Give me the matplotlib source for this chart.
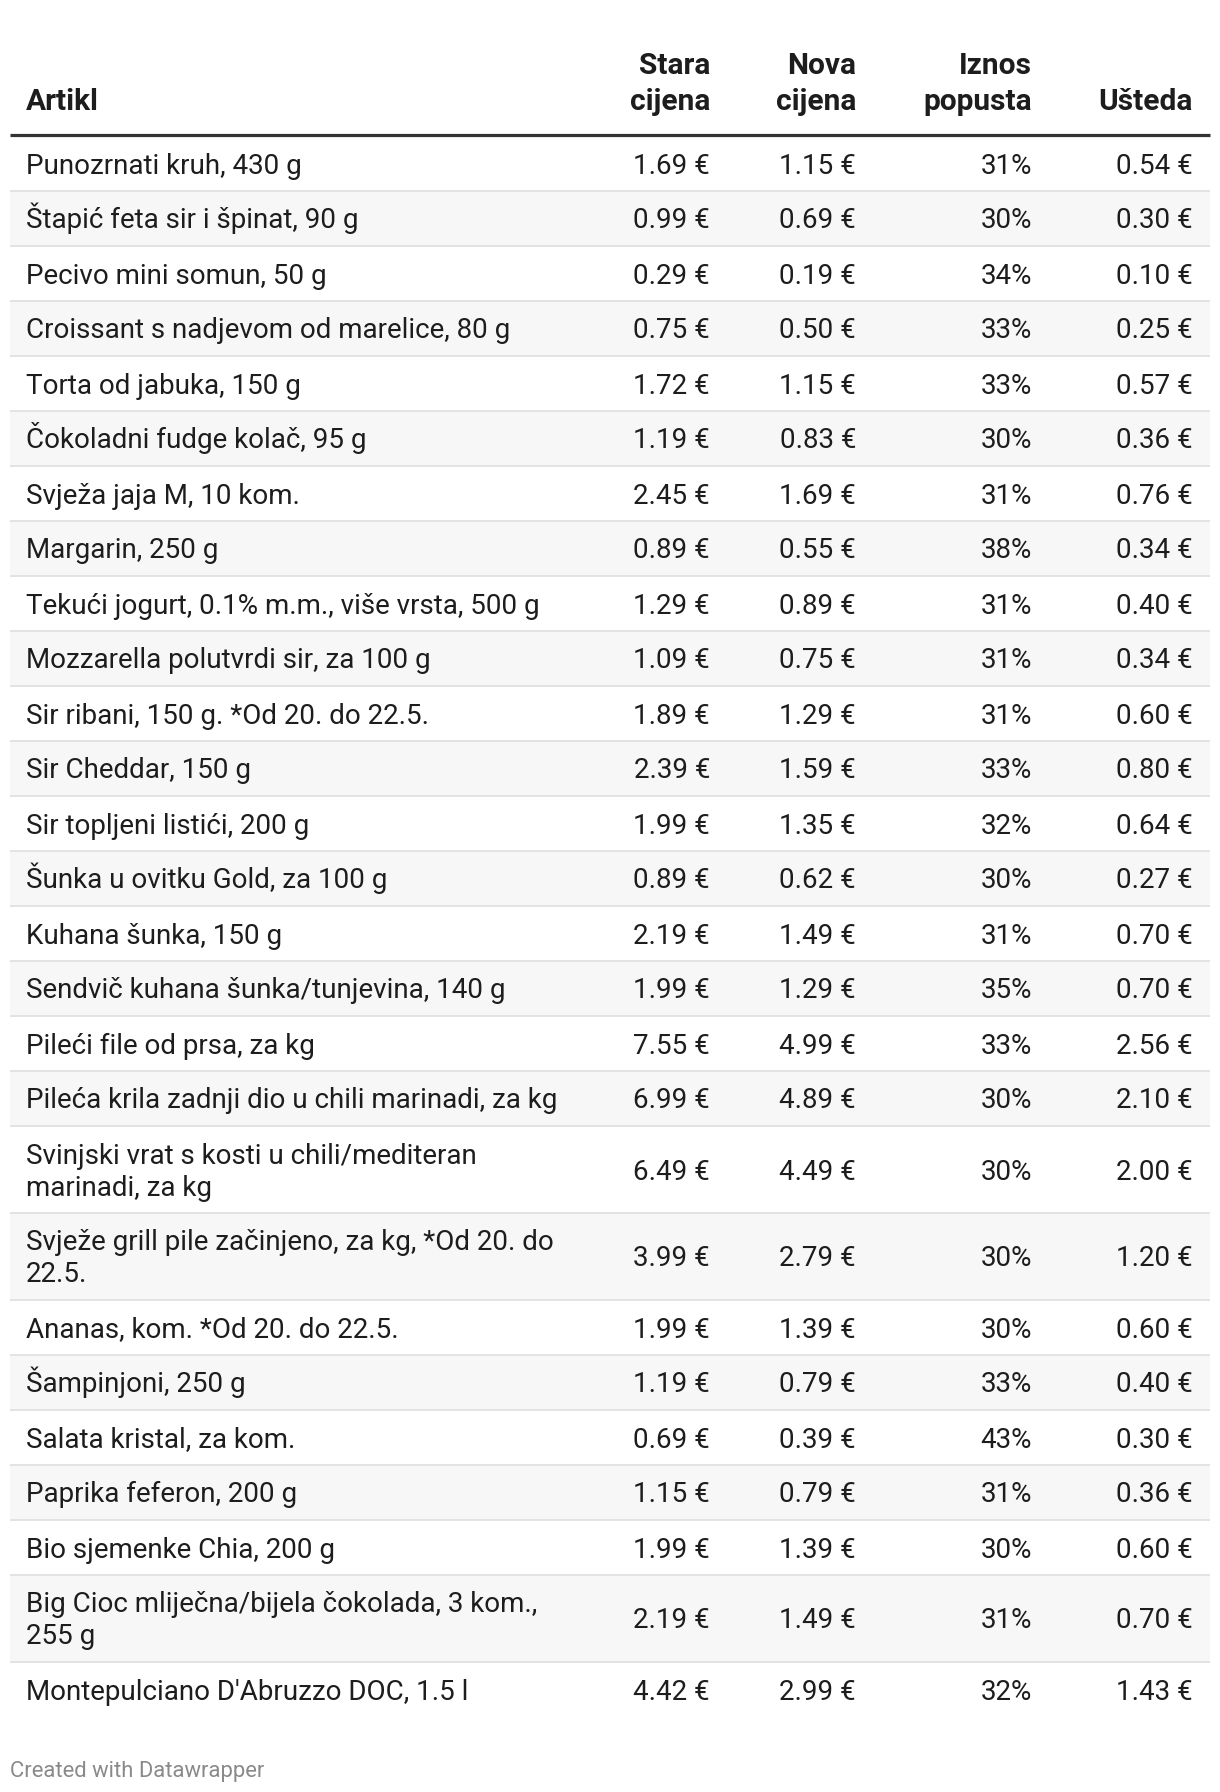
import matplotlib
matplotlib.use("Agg")
import matplotlib.pyplot as plt
from matplotlib.patches import Rectangle

plt.rcParams['font.family'] = ['Roboto', 'DejaVu Sans']

names = [
    "Punozrnati kruh, 430 g",
    "Štapić feta sir i špinat, 90 g",
    "Pecivo mini somun, 50 g",
    "Croissant s nadjevom od marelice, 80 g",
    "Torta od jabuka, 150 g",
    "Čokoladni fudge kolač, 95 g",
    "Svježa jaja M, 10 kom.",
    "Margarin, 250 g",
    "Tekući jogurt, 0.1% m.m., više vrsta, 500 g",
    "Mozzarella polutvrdi sir, za 100 g",
    "Sir ribani, 150 g. *Od 20. do 22.5.",
    "Sir Cheddar, 150 g",
    "Sir topljeni listići, 200 g",
    "Šunka u ovitku Gold, za 100 g",
    "Kuhana šunka, 150 g",
    "Sendvič kuhana šunka/tunjevina, 140 g",
    "Pileći file od prsa, za kg",
    "Pileća krila zadnji dio u chili marinadi, za kg",
    "Svinjski vrat s kosti u chili/mediteran\nmarinadi, za kg",
    "Svježe grill pile začinjeno, za kg, *Od 20. do\n22.5.",
    "Ananas, kom. *Od 20. do 22.5.",
    "Šampinjoni, 250 g",
    "Salata kristal, za kom.",
    "Paprika feferon, 200 g",
    "Bio sjemenke Chia, 200 g",
    "Big Cioc mliječna/bijela čokolada, 3 kom.,\n255 g",
    "Montepulciano D'Abruzzo DOC, 1.5 l",
]
stara = [1.69, 0.99, 0.29, 0.75, 1.72, 1.19, 2.45, 0.89, 1.29, 1.09, 1.89, 2.39, 1.99,
         0.89, 2.19, 1.99, 7.55, 6.99, 6.49, 3.99, 1.99, 1.19, 0.69, 1.15, 1.99, 2.19, 4.42]
nova = [1.15, 0.69, 0.19, 0.50, 1.15, 0.83, 1.69, 0.55, 0.89, 0.75, 1.29, 1.59, 1.35,
        0.62, 1.49, 1.29, 4.99, 4.89, 4.49, 2.79, 1.39, 0.79, 0.39, 0.79, 1.39, 1.49, 2.99]
popust = [31, 30, 34, 33, 33, 30, 31, 38, 31, 31, 31, 33, 32,
          30, 31, 35, 33, 30, 30, 30, 30, 33, 43, 31, 30, 31, 32]
usteda = [0.54, 0.30, 0.10, 0.25, 0.57, 0.36, 0.76, 0.34, 0.40, 0.34, 0.60, 0.80, 0.64,
          0.27, 0.70, 0.70, 2.56, 2.10, 2.00, 1.20, 0.60, 0.40, 0.30, 0.36, 0.60, 0.70, 1.43]
headers = ["Artikl", "Stara\ncijena", "Nova\ncijena", "Iznos\npopusta", "Ušteda"]
credit = "Created with Datawrapper"

W, H = 1220, 1792
fig = plt.figure(figsize=(W / 100, H / 100), dpi=100)
ax = fig.add_axes([0, 0, 1, 1])
ax.set_xlim(0, W)
ax.set_ylim(H, 0)
ax.axis('off')

TXT = '#1d1d1d'
FS = 20.0          # pt
HFS = 21.5
left, right = 10, 1210
text_x = 26
col_right = [None, 710, 856, 1032, 1193]

# header
hdr_base = 110
hdr_lh = 36
for ci, h in enumerate(headers):
    lines = h.split("\n")
    n = len(lines)
    for li, ln in enumerate(lines):
        y = hdr_base - (n - 1 - li) * hdr_lh
        if ci == 0:
            ax.text(text_x, y, ln, ha='left', va='baseline', fontsize=HFS,
                    fontweight='bold', color=TXT)
        else:
            ax.text(col_right[ci], y, ln, ha='right', va='baseline', fontsize=HFS,
                    fontweight='bold', color=TXT)

ax.plot([left, right], [135, 135], color='#333333', lw=2.3, solid_capstyle='butt')

# rows
y0 = 136.5
single = 55
lh = 32
for i, nm in enumerate(names):
    lines = nm.split("\n")
    n = len(lines)
    h = single + lh * (n - 1)
    if i % 2 == 1:
        ax.add_patch(Rectangle((left, y0), right - left, h, facecolor='#f7f7f7',
                               edgecolor='none', zorder=0))
    cy = y0 + h / 2
    for li, ln in enumerate(lines):
        yb = cy + (li - (n - 1) / 2) * lh + 9.5
        ax.text(text_x, yb, ln, ha='left', va='baseline', fontsize=FS, color=TXT)
    vals = [f"{stara[i]:.2f} €", f"{nova[i]:.2f} €", f"{popust[i]}%", f"{usteda[i]:.2f} €"]
    for ci, v in enumerate(vals, start=1):
        ax.text(col_right[ci], cy + 9.5, v, ha='right', va='baseline', fontsize=FS, color=TXT)
    y0 += h
    if i < len(names) - 1:
        ax.plot([left, right], [y0, y0], color='#e3e3e3', lw=1.4, solid_capstyle='butt', zorder=1)

ax.text(10, 1777, credit, ha='left', va='baseline', fontsize=15.8, color='#8a8a8a')

fig.savefig("out.png", dpi=100)
